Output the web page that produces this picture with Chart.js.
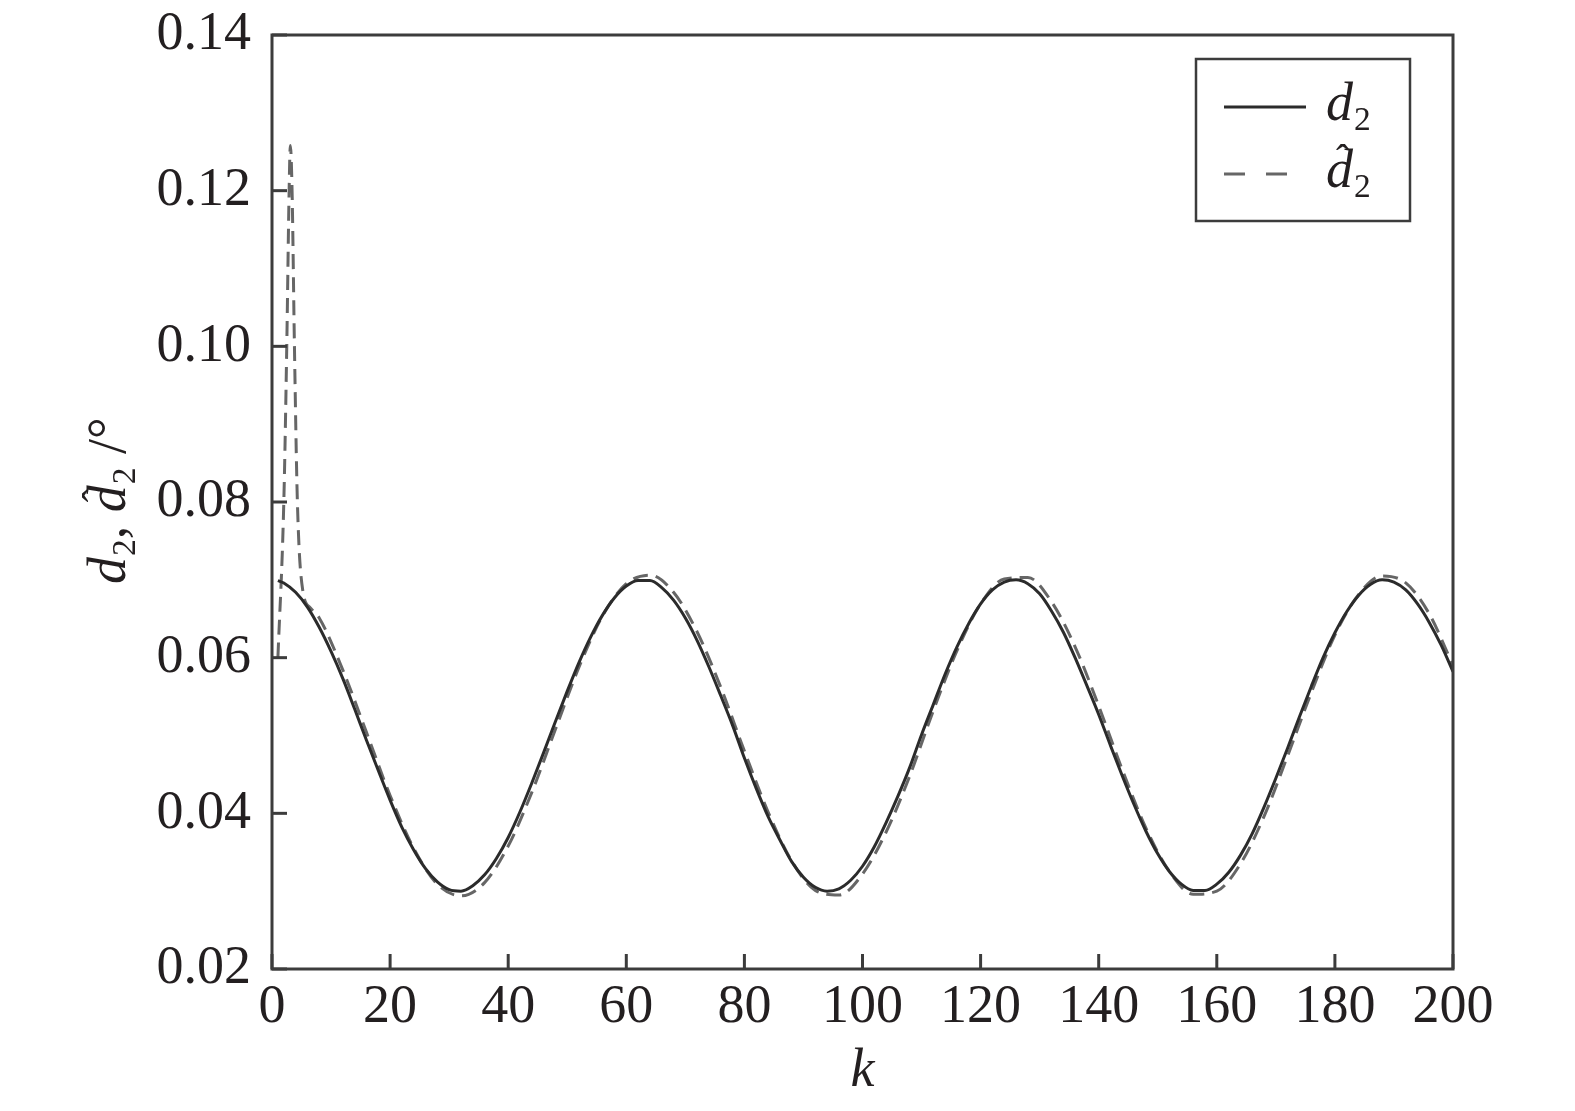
<!DOCTYPE html>
<html>
<head>
<meta charset="utf-8">
<title>d2 estimate</title>
<script src="https://cdn.jsdelivr.net/npm/chart.js@4.4.1/dist/chart.umd.min.js"></script>
<style>
  html, body { margin: 0; padding: 0; background: #fff; }
  canvas { display: block; }
</style>
</head>
<body>
<canvas id="c" width="1575" height="1111"></canvas>
<script>
'use strict';

/* ── DATA ─────────────────────────── */
const xTicks = [0, 20, 40, 60, 80, 100, 120, 140, 160, 180, 200];
const yTicks = [0.02, 0.04, 0.06, 0.08, 0.10, 0.12, 0.14];

// d2 (solid)
const kSolid = [1, 2, 4, 6, 8, 10, 12, 14, 16, 18, 20, 22, 24, 26, 28, 30, 32, 34, 36, 38,
  40, 42, 44, 46, 48, 50, 52, 54, 56, 58, 60, 62, 64, 66, 68, 70, 72, 74, 76, 78,
  80, 82, 84, 86, 88, 90, 92, 94, 96, 98, 100, 102, 104, 106, 108, 110, 112, 114, 116, 118,
  120, 122, 124, 126, 128, 130, 132, 134, 136, 138, 140, 142, 144, 146, 148, 150, 152, 154, 156, 158,
  160, 162, 164, 166, 168, 170, 172, 174, 176, 178, 180, 182, 184, 186, 188, 190, 192, 194, 196, 198, 200];
const d2 = [0.0699, 0.0696, 0.0684, 0.0665, 0.0639, 0.0608, 0.0573, 0.0534, 0.0494, 0.0455,
  0.0417, 0.0382, 0.0353, 0.0329, 0.0312, 0.0302, 0.0300, 0.0307, 0.0321, 0.0342,
  0.0369, 0.0402, 0.0439, 0.0478, 0.0518, 0.0557, 0.0594, 0.0627, 0.0655, 0.0677,
  0.0692, 0.0699, 0.0699, 0.0690, 0.0674, 0.0651, 0.0622, 0.0588, 0.0551, 0.0513,
  0.0471, 0.0432, 0.0396, 0.0366, 0.0338, 0.0318, 0.0305, 0.0300, 0.0303, 0.0314,
  0.0332, 0.0357, 0.0388, 0.0422, 0.0459, 0.0501, 0.0540, 0.0579, 0.0614, 0.0644,
  0.0669, 0.0687, 0.0697, 0.0700, 0.0695, 0.0682, 0.0660, 0.0633, 0.0600, 0.0564,
  0.0527, 0.0487, 0.0448, 0.0411, 0.0377, 0.0348, 0.0325, 0.0309, 0.0301, 0.0301,
  0.0309, 0.0324, 0.0346, 0.0374, 0.0408, 0.0445, 0.0484, 0.0524, 0.0563, 0.0600,
  0.0632, 0.0659, 0.0680, 0.0694, 0.0700, 0.0697, 0.0687, 0.0669, 0.0645, 0.0616, 0.0582];

// d2 hat (dashed estimate)
const kEst = [1, 2, 2.5, 2.9, 3.1, 3.4, 3.8, 4.3, 5.2, 6.5, 8, 12, 16, 20, 24, 28, 32, 36, 40,
  44, 48, 52, 56, 60, 64, 68, 72, 76, 80, 84, 88, 92, 96, 100, 104, 108, 112, 116, 120,
  124, 128, 132, 136, 140, 144, 148, 152, 156, 160, 164, 168, 172, 176, 180, 184, 188, 192, 196, 200];
const d2Est = [0.0600, 0.0800, 0.1000, 0.1200, 0.1258, 0.1200, 0.1000, 0.0800, 0.0687, 0.0664,
  0.0651, 0.0584, 0.0504, 0.0423, 0.0355, 0.0309, 0.0294, 0.0311, 0.0358,
  0.0427, 0.0508, 0.0588, 0.0654, 0.0695, 0.0706, 0.0684, 0.0633, 0.0562, 0.0480,
  0.0402, 0.0339, 0.0301, 0.0295, 0.0322, 0.0376, 0.0448, 0.0532, 0.0609, 0.0669,
  0.0701, 0.0703, 0.0672, 0.0614, 0.0538, 0.0456, 0.0381, 0.0325, 0.0296, 0.0300,
  0.0335, 0.0396, 0.0474, 0.0555, 0.0629, 0.0681, 0.0705, 0.0696, 0.0656, 0.0590];

/* ── STYLE ─────────────────────────── */
const ink     = '#231f20';
const frameC  = '#3c3c3c';
const solidC  = '#2b2b2b';
const dashC   = '#666666';
const serif   = '"Liberation Serif", "Times New Roman", serif';
const fs      = 54;

// draw italic d, optional hat, subscript 2 at (x, y) baseline; returns end x
function drawD2(ctx, x, y, hat) {
  ctx.font = `italic ${fs}px ${serif}`;
  ctx.fillText('d', x, y);
  const w = ctx.measureText('d').width;
  if (hat) {
    ctx.font = `${fs * 0.75}px ${serif}`;
    ctx.textAlign = 'center';
    ctx.fillText('\u02C6', x + w * 0.62, y - fs * 0.28);
    ctx.textAlign = 'left';
  }
  ctx.font = `${fs * 0.62}px ${serif}`;
  ctx.fillText('2', x + w + 1, y + 10);
  return x + w + 1 + ctx.measureText('2').width;
}

/* ── DECOR PLUGIN: frame, inward ticks, titles, legend ─────────────────────────── */
const decor = {
  id: 'decor',
  afterDraw(chart) {
    const { ctx, chartArea: a, scales } = chart;
    ctx.save();

    // frame
    ctx.strokeStyle = frameC;
    ctx.lineWidth = 3;
    ctx.strokeRect(a.left, a.top, a.right - a.left, a.bottom - a.top);

    // inward ticks
    xTicks.forEach(v => {
      const px = scales.x.getPixelForValue(v);
      ctx.beginPath(); ctx.moveTo(px, a.bottom); ctx.lineTo(px, a.bottom - 15); ctx.stroke();
    });
    yTicks.forEach(v => {
      const py = scales.y.getPixelForValue(v);
      ctx.beginPath(); ctx.moveTo(a.left, py); ctx.lineTo(a.left + 15, py); ctx.stroke();
    });

    ctx.fillStyle = ink;
    ctx.textBaseline = 'alphabetic';
    ctx.textAlign = 'left';

    // x title
    ctx.font = `italic ${fs}px ${serif}`;
    ctx.textAlign = 'center';
    ctx.fillText('k', (a.left + a.right) / 2, 1086);
    ctx.textAlign = 'left';

    // y title (rotated)
    ctx.save();
    ctx.translate(125, 584);
    ctx.rotate(-Math.PI / 2);
    let x = drawD2(ctx, 0, 0, false);
    ctx.font = `${fs}px ${serif}`;
    ctx.fillText(',', x, 0);
    x += ctx.measureText(', ').width;
    x = drawD2(ctx, x, 0, true);
    ctx.font = `${fs}px ${serif}`;
    ctx.fillText(' /\u00B0', x, 0);
    ctx.restore();

    // legend
    ctx.strokeStyle = frameC;
    ctx.lineWidth = 2.5;
    ctx.strokeRect(1196, 59, 214, 162);

    ctx.lineWidth = 3;
    ctx.strokeStyle = solidC;
    ctx.beginPath(); ctx.moveTo(1224, 107); ctx.lineTo(1306, 107); ctx.stroke();
    ctx.strokeStyle = dashC;
    ctx.setLineDash([21, 21]);
    ctx.beginPath(); ctx.moveTo(1224, 174); ctx.lineTo(1290, 174); ctx.stroke();
    ctx.setLineDash([]);

    drawD2(ctx, 1326, 120, false);
    drawD2(ctx, 1326, 187, true);

    ctx.restore();
  },
};

/* ── CHART ─────────────────────────── */
const pts = (xs, ys) => xs.map((k, i) => ({ x: k, y: ys[i] }));

new Chart(document.getElementById('c'), {
  type: 'line',
  data: {
    datasets: [
      {
        label: 'd2',
        data: pts(kSolid, d2),
        borderColor: solidC,
        borderWidth: 3,
        pointRadius: 0,
        cubicInterpolationMode: 'monotone',
        fill: false,
      },
      {
        label: 'd2 hat',
        data: pts(kEst, d2Est),
        borderColor: dashC,
        borderWidth: 3,
        borderDash: [15, 8],
        pointRadius: 0,
        cubicInterpolationMode: 'monotone',
        fill: false,
      },
    ],
  },
  options: {
    responsive: false,
    animation: false,
    devicePixelRatio: 1,
    layout: { padding: { left: 0, top: 35, right: 122, bottom: 0 } },
    plugins: {
      legend:  { display: false },
      tooltip: { enabled: false },
    },
    scales: {
      x: {
        type: 'linear',
        min: 0, max: 200,
        afterBuildTicks: s => { s.ticks = xTicks.map(v => ({ value: v })); },
        afterFit: s => { s.height = 142; s.paddingLeft = 0; s.paddingRight = 0; },
        grid: { display: false, drawTicks: false },
        border: { display: false },
        ticks: { color: ink, padding: 6, maxRotation: 0, font: { family: serif, size: fs } },
      },
      y: {
        type: 'linear',
        min: 0.02, max: 0.14,
        afterBuildTicks: s => { s.ticks = yTicks.map(v => ({ value: v })); },
        afterFit: s => { s.width = 272; s.paddingTop = 0; s.paddingBottom = 0; },
        grid: { display: false, drawTicks: false },
        border: { display: false },
        ticks: { color: ink, padding: 21, font: { family: serif, size: fs }, callback: v => v.toFixed(2) },
      },
    },
  },
  plugins: [decor],
});
</script>
</body>
</html>
